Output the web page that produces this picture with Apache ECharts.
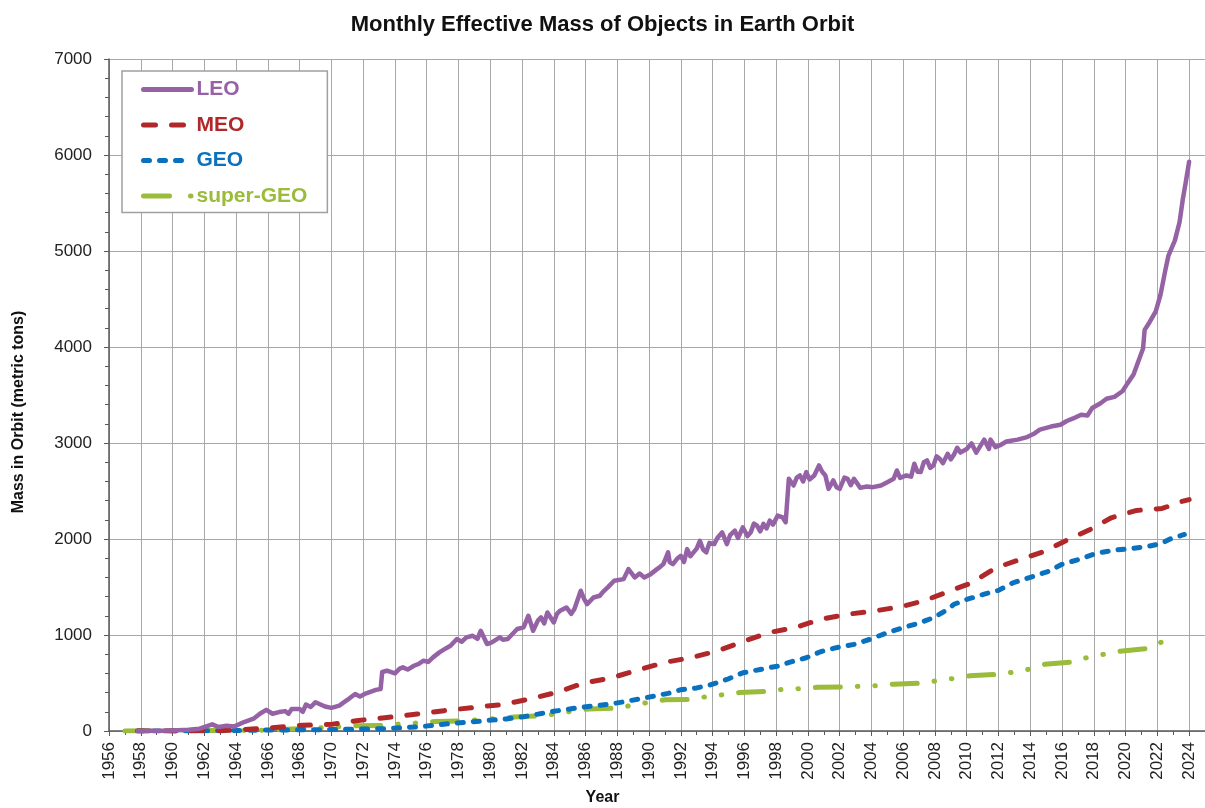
<!DOCTYPE html>
<html>
<head>
<meta charset="utf-8">
<script src="https://cdn.jsdelivr.net/npm/echarts@6/dist/echarts.min.js"></script>
<style>
  html, body { margin: 0; padding: 0; background: #fff; }
  #main { width: 1205px; height: 808px; }
</style>
</head>
<body>
<div id="main"></div>
<script>
// [year, metric tons]
const leo = [
  [1957.8, 0], [1959, 2], [1960, 5], [1961, 12], [1961.7, 24], [1962.5, 69], [1962.9, 41], [1963.4, 55],
  [1963.9, 48], [1964.5, 93], [1965.1, 128], [1965.5, 180], [1965.9, 220], [1966.3, 180], [1966.7, 197],
  [1967.1, 207], [1967.3, 180], [1967.5, 230], [1968.0, 230], [1968.2, 200], [1968.4, 276], [1968.7, 250],
  [1969.0, 300], [1969.6, 255], [1970.0, 241], [1970.5, 265], [1970.8, 300], [1971.1, 335], [1971.5, 386],
  [1971.8, 360], [1972.1, 386], [1972.5, 410], [1972.8, 428], [1973.1, 438], [1973.2, 615], [1973.5, 628],
  [1974.0, 600], [1974.3, 650], [1974.5, 663], [1974.8, 640], [1975.2, 680], [1975.5, 700], [1975.8, 732],
  [1976.1, 720], [1976.4, 767], [1976.8, 819], [1977.2, 860], [1977.5, 888], [1977.9, 958], [1978.2, 930],
  [1978.5, 975], [1978.9, 992], [1979.2, 960], [1979.4, 1044], [1979.8, 906], [1980.1, 923], [1980.6, 975],
  [1980.8, 950], [1981.1, 958], [1981.4, 1010], [1981.7, 1062], [1982.1, 1079], [1982.4, 1200],
  [1982.7, 1044], [1983.0, 1150], [1983.2, 1183], [1983.4, 1120], [1983.6, 1235], [1984.0, 1131],
  [1984.2, 1220], [1984.4, 1253], [1984.8, 1287], [1985.1, 1220], [1985.3, 1270], [1985.7, 1461],
  [1985.9, 1380], [1986.1, 1322], [1986.5, 1391], [1986.9, 1409], [1987.1, 1450], [1987.4, 1496],
  [1987.8, 1565], [1988.4, 1582], [1988.7, 1686], [1989.1, 1600], [1989.4, 1640], [1989.7, 1600],
  [1990.1, 1634], [1990.5, 1686], [1990.7, 1710], [1990.9, 1738], [1991.2, 1860], [1991.3, 1760],
  [1991.5, 1738], [1991.8, 1800], [1992.0, 1825], [1992.2, 1760], [1992.4, 1895], [1992.6, 1820],
  [1992.8, 1860], [1993.0, 1900], [1993.2, 1982], [1993.4, 1890], [1993.6, 1860], [1993.8, 1960],
  [1994.1, 1947], [1994.3, 2010], [1994.6, 2069], [1994.9, 1947], [1995.1, 2040], [1995.4, 2087],
  [1995.6, 2010], [1995.9, 2122], [1996.2, 2030], [1996.4, 2069], [1996.6, 2160], [1996.8, 2139],
  [1997.0, 2080], [1997.2, 2157], [1997.4, 2110], [1997.6, 2191], [1997.8, 2150], [1998.1, 2244],
  [1998.4, 2226], [1998.6, 2174], [1998.8, 2627], [1999.1, 2557], [1999.3, 2640], [1999.5, 2662],
  [1999.7, 2600], [1999.9, 2697], [2000.1, 2620], [2000.4, 2662], [2000.7, 2766], [2000.9, 2700],
  [2001.1, 2662], [2001.3, 2522], [2001.6, 2610], [2001.8, 2540], [2002.0, 2522], [2002.3, 2640],
  [2002.5, 2627], [2002.7, 2560], [2002.9, 2627], [2003.3, 2533], [2003.7, 2547], [2004.1, 2540],
  [2004.6, 2557], [2005.0, 2592], [2005.4, 2627], [2005.6, 2714], [2005.8, 2637], [2006.2, 2662],
  [2006.5, 2650], [2006.7, 2784], [2006.9, 2700], [2007.1, 2697], [2007.3, 2800], [2007.5, 2819],
  [2007.7, 2740], [2007.9, 2766], [2008.1, 2860], [2008.3, 2836], [2008.5, 2790], [2008.8, 2888],
  [2009.0, 2830], [2009.2, 2880], [2009.4, 2950], [2009.6, 2900], [2010.0, 2938], [2010.3, 2996],
  [2010.6, 2899], [2011.1, 3035], [2011.4, 2938], [2011.5, 3035], [2011.8, 2957], [2012.1, 2977],
  [2012.5, 3015], [2013.2, 3035], [2013.8, 3062], [2014.2, 3093], [2014.6, 3140], [2015.3, 3171],
  [2015.9, 3190], [2016.3, 3229], [2016.7, 3256], [2017.2, 3295], [2017.6, 3287], [2017.9, 3364],
  [2018.4, 3411], [2018.8, 3461], [2019.3, 3481], [2019.8, 3539], [2020.1, 3616], [2020.5, 3713],
  [2020.8, 3849], [2021.1, 3984], [2021.2, 4178], [2021.5, 4256], [2021.9, 4372], [2022.2, 4546],
  [2022.5, 4798], [2022.7, 4953], [2023.1, 5108], [2023.4, 5302], [2023.6, 5535], [2023.8, 5729],
  [2024.0, 5930]
];

const meo = [
  [1957.8, 0], [1960, 0], [1962, 2], [1964, 10], [1965, 20], [1966.3, 35], [1968.2, 59], [1970, 69],
  [1971.7, 110], [1973.5, 140], [1975.4, 177], [1977.1, 212], [1979, 246], [1980.7, 274], [1982.5, 333],
  [1984.2, 403], [1985.9, 500], [1987.6, 552], [1989.3, 635], [1991, 715], [1992.6, 763], [1994.3, 833],
  [1995.9, 930], [1997.5, 1024], [1999.2, 1077], [2000.8, 1164], [2002.5, 1216], [2004.2, 1251],
  [2005.8, 1293], [2007.3, 1355], [2008.8, 1450], [2010.3, 1543], [2011.8, 1698], [2013.3, 1783],
  [2014.9, 1872], [2016.3, 1988], [2017.7, 2093], [2019.1, 2221], [2020.7, 2298], [2022.3, 2318],
  [2023.5, 2390], [2024.0, 2410]
];

const geo = [
  [1957.8, 0], [1963, 2], [1965, 8], [1968, 12], [1970, 15], [1972, 20], [1973.5, 25], [1974.5, 35],
  [1975.6, 45], [1977.2, 73], [1979.7, 108], [1981, 125], [1982.1, 149], [1984, 205], [1985.7, 246],
  [1987.6, 281], [1988.8, 316], [1989.9, 350], [1991.2, 392], [1992, 430], [1993, 449], [1993.8, 477],
  [1994.9, 537], [1995.9, 606], [1997, 641], [1998.1, 676], [1999.1, 728], [1999.9, 763], [2000.8, 826],
  [2001.8, 868], [2002.9, 902], [2003.9, 955], [2005, 1024], [2006, 1077], [2007.1, 1129], [2008, 1188],
  [2008.8, 1268], [2009.2, 1320], [2010, 1370], [2011.1, 1426], [2012, 1465], [2012.9, 1543],
  [2014, 1601], [2015.1, 1660], [2016, 1736], [2017.2, 1795], [2018.2, 1853], [2019.3, 1884],
  [2020.3, 1899], [2021.4, 1923], [2022.2, 1950], [2022.8, 2000], [2023.7, 2047]
];

const superGeo = [
  [1957, 0], [1960, 3], [1963, 5], [1966, 8], [1967.5, 20], [1968.6, 24], [1970, 41], [1971.5, 55],
  [1973.4, 59], [1974.3, 73], [1975.6, 85], [1976.6, 100], [1978.3, 105], [1980, 125], [1981.5, 145],
  [1983.4, 160], [1985.3, 210], [1986.2, 229], [1988.1, 240], [1989.1, 274], [1990, 298], [1991, 325],
  [1992.8, 330], [1993.7, 362], [1994.8, 380], [1995.7, 400], [1997.6, 415], [1998.6, 439], [1999.6, 440],
  [2000.6, 456], [2002.5, 460], [2003.4, 467], [2004.5, 474], [2005.4, 488], [2007.3, 500], [2008.2, 526],
  [2009.2, 548], [2010.2, 575], [2012.0, 590], [2012.9, 612], [2013.9, 643], [2014.9, 695], [2016.7, 720],
  [2017.6, 767], [2018.6, 798], [2019.6, 830], [2021.4, 860], [2022.2, 922], [2023.1, 955]
];

const seriesNames = ['LEO', 'MEO', 'GEO', 'super-GEO'];
const seriesColors = ['#9562a6', '#b0282a', '#0a71be', '#9bbb3b'];
const seriesDash = ['solid', [11, 16], [6, 10], [25, 17, 0.5, 17, 0.5, 17]];
const legendDash = ['solid', [12, 16], [6, 10], [26, 21, 0.5, 30]];

const font = 'Liberation Sans, Arial, sans-serif';
const axisColor = '#5a5a5a';

const myChart = echarts.init(document.getElementById('main'));

const lineSeries = (i, data, width) => ({
  name: seriesNames[i],
  type: 'line',
  data: data,
  symbol: 'none',
  animation: false,
  lineStyle: {
    color: seriesColors[i],
    width: width,
    type: seriesDash[i],
    cap: 'round',
    join: 'round'
  },
  itemStyle: { color: seriesColors[i] }
});

const option = {
  animation: false,
  textStyle: { fontFamily: font },
  title: {
    text: 'Monthly Effective Mass of Objects in Earth Orbit',
    left: 'center',
    top: 9,
    textStyle: { fontSize: 22, fontWeight: 'bold', color: '#111', fontFamily: font }
  },
  legend: {
    orient: 'vertical',
    left: 122,
    top: 71,
    padding: [8, 20, 6, 19],
    itemWidth: 48,
    itemHeight: 20,
    itemGap: 14.5,
    borderColor: '#a0a0a0',
    borderWidth: 1.5,
    backgroundColor: '#fff',
    itemStyle: { opacity: 0 },
    data: seriesNames.map((n, i) => ({
      name: n,
      textStyle: { color: seriesColors[i] },
      itemStyle: { opacity: 0 },
      lineStyle: { color: seriesColors[i], width: 5, type: legendDash[i], cap: 'round' }
    })),
    textStyle: { fontSize: 21, fontWeight: 'bold', lineHeight: 20, fontFamily: font }
  },
  grid: { left: 109, right: 0, top: 59, bottom: 77, containLabel: false },
  xAxis: {
    type: 'value',
    min: 1956,
    max: 2025,
    interval: 2,
    axisLine: { show: true, onZero: false, lineStyle: { color: axisColor, width: 1.5 } },
    axisTick: { show: true, length: 5, lineStyle: { color: axisColor } },
    minorTick: { show: true, splitNumber: 2, length: 4, lineStyle: { color: axisColor } },
    splitLine: { show: true, lineStyle: { color: '#a8a8a8', width: 1 } },
    axisLabel: {
      rotate: 90,
      margin: 11,
      fontSize: 17,
      color: '#222',
      formatter: (v) => (v % 2 === 0 ? String(v) : '')
    }
  },
  yAxis: {
    type: 'value',
    min: 0,
    max: 7000,
    interval: 1000,
    axisLine: { show: true, lineStyle: { color: axisColor, width: 1.5 } },
    axisTick: { show: true, length: 5, lineStyle: { color: axisColor } },
    minorTick: { show: true, splitNumber: 5, length: 4, lineStyle: { color: axisColor } },
    splitLine: { show: true, lineStyle: { color: '#a8a8a8', width: 1 } },
    axisLabel: { margin: 17, fontSize: 17, color: '#222', formatter: (v) => String(v) }
  },
  graphic: [
    {
      type: 'text',
      left: 'center',
      top: 790,
      style: { text: 'Year', fill: '#111', font: 'bold 16px ' + font }
    },
    {
      type: 'text',
      x: 19,
      y: 412,
      rotation: Math.PI / 2,
      style: {
        text: 'Mass in Orbit (metric tons)',
        font: 'bold 16px ' + font,
        fill: '#111',
        align: 'center',
        verticalAlign: 'middle'
      }
    }
  ],
  series: [
    lineSeries(3, superGeo, 5),
    lineSeries(2, geo, 5),
    lineSeries(1, meo, 5),
    lineSeries(0, leo, 4.5)
  ]
};

myChart.setOption(option);
</script>
</body>
</html>
